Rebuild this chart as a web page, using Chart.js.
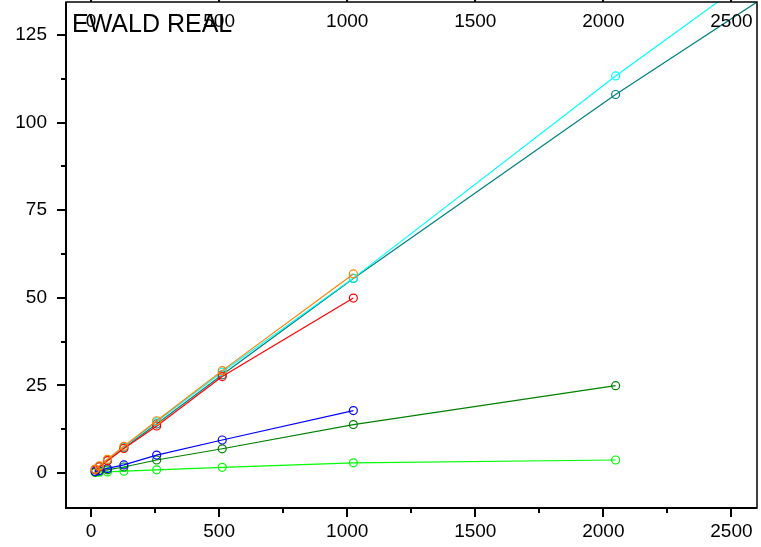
<!DOCTYPE html>
<html>
<head>
<meta charset="utf-8">
<script src="https://cdn.jsdelivr.net/npm/chart.js@4.4.1/dist/chart.umd.min.js"></script>
<style>
  html, body { margin: 0; padding: 0; background: #fff; }
  canvas { display: block; }
</style>
</head>
<body>
<canvas id="chart" width="761" height="547"></canvas>
<script>
const chartTitle = "EWALD REAL";

// problem sizes on the x axis
const sizes = [16, 32, 64, 128, 256, 512, 1024, 2048, 4096];

// timings, one list per curve
const teal = [1.0, 1.8, 3.6, 7.2, 14.0, 28.0, 55.5, 108.0, 206.0];
const cyan = [1.0, 1.9, 3.8, 7.4, 14.6, 28.8, 55.6, 113.3, 221.7];
const red = [0.9, 1.8, 3.5, 7.0, 13.4, 27.5, 49.9];
const orange = [1.1, 2.0, 3.9, 7.6, 14.9, 29.2, 56.8];
const blue = [0.4, 0.7, 1.3, 2.3, 5.1, 9.4, 17.8];
const darkGreen = [0.3, 0.5, 0.9, 1.7, 3.7, 6.9, 13.8, 24.9];
const lightGreen = [0.1, 0.2, 0.3, 0.5, 0.9, 1.6, 2.9, 3.7];

const xMajorTicks = [0, 500, 1000, 1500, 2000, 2500];
const xMinorTicks = [250, 750, 1250, 1750, 2250];
const yMajorTicks = [0, 25, 50, 75, 100, 125];
const yMinorTicks = [12.5, 37.5, 62.5, 87.5, 112.5];

const fontFamily = "'Liberation Sans', Arial, sans-serif";

function toPoints(values) {
  return values.map((v, i) => ({ x: sizes[i], y: v }));
}

function series(values, color) {
  return {
    data: toPoints(values),
    borderColor: color,
    backgroundColor: "rgba(0,0,0,0)",
    borderWidth: 1.2,
    pointRadius: 4,
    pointBorderWidth: 1.2,
    pointBorderColor: color,
    pointBackgroundColor: "rgba(0,0,0,0)",
    tension: 0,
  };
}

// no extra room for edge labels, the area is fixed by afterFit
function noPadding(s) {
  s.paddingTop = 0;
  s.paddingBottom = 0;
  s.paddingLeft = 0;
  s.paddingRight = 0;
}

// box, tick marks, top labels and the title
const frame = {
  id: "frame",
  afterDraw(chart) {
    const ctx = chart.ctx;
    const a = chart.chartArea;
    const xs = chart.scales.x;
    const ys = chart.scales.y;
    ctx.save();
    ctx.strokeStyle = "#000";

    ctx.lineWidth = 1.5;
    ctx.strokeRect(a.left, a.top, a.right - a.left, a.bottom - a.top);
    ctx.lineWidth = 2;
    ctx.beginPath();
    ctx.moveTo(a.left, a.top);
    ctx.lineTo(a.left, a.bottom);
    ctx.lineTo(a.right, a.bottom);
    ctx.stroke();

    ctx.lineWidth = 2;
    ctx.beginPath();
    xMajorTicks.forEach(v => {
      const px = Math.round(xs.getPixelForValue(v));
      ctx.moveTo(px, a.bottom);
      ctx.lineTo(px, a.bottom + 9);
      ctx.moveTo(px, a.top);
      ctx.lineTo(px, a.top - 3);
    });
    xMinorTicks.forEach(v => {
      const px = Math.round(xs.getPixelForValue(v));
      ctx.moveTo(px, a.bottom);
      ctx.lineTo(px, a.bottom + 5);
    });
    yMajorTicks.forEach(v => {
      const py = Math.round(ys.getPixelForValue(v));
      ctx.moveTo(a.left, py);
      ctx.lineTo(a.left - 9, py);
    });
    yMinorTicks.forEach(v => {
      const py = Math.round(ys.getPixelForValue(v));
      ctx.moveTo(a.left, py);
      ctx.lineTo(a.left - 5, py);
    });
    ctx.stroke();

    ctx.fillStyle = "#000";
    ctx.font = "19px " + fontFamily;
    ctx.textAlign = "center";
    ctx.textBaseline = "middle";
    xMajorTicks.forEach(v => {
      ctx.fillText(String(v), xs.getPixelForValue(v), a.top + 20);
    });

    ctx.font = "25px " + fontFamily;
    ctx.textAlign = "left";
    ctx.textBaseline = "alphabetic";
    ctx.fillText(chartTitle, 72, 32);
    ctx.restore();
  },
};

// chart.js paints the first dataset last, so it ends up on top
new Chart(document.getElementById("chart"), {
  type: "line",
  data: {
    datasets: [
      series(orange, "#ff8000"),
      series(red, "#ff0000"),
      series(cyan, "#00ffff"),
      series(teal, "#008080"),
      series(blue, "#0000ff"),
      series(darkGreen, "#008000"),
      series(lightGreen, "#00ff00"),
    ],
  },
  options: {
    responsive: false,
    animation: false,
    layout: { autoPadding: false, padding: { top: 2, right: 4, left: 0, bottom: 0 } },
    plugins: {
      legend: { display: false },
      tooltip: { enabled: false },
    },
    scales: {
      x: {
        type: "linear",
        min: -98,
        max: 2600,
        afterBuildTicks: s => { s.ticks = xMajorTicks.map(v => ({ value: v })); },
        afterFit: s => { s.height = 39; noPadding(s); },
        grid: { display: false, drawTicks: false },
        border: { display: false },
        ticks: {
          padding: 12,
          color: "#000",
          maxRotation: 0,
          autoSkip: false,
          font: { family: fontFamily, size: 19 },
          callback: v => String(v),
        },
      },
      y: {
        type: "linear",
        min: -10,
        max: 134.4,
        afterBuildTicks: s => { s.ticks = yMajorTicks.map(v => ({ value: v })); },
        afterFit: s => { s.width = 66; noPadding(s); },
        grid: { display: false, drawTicks: false },
        border: { display: false },
        ticks: {
          padding: 19,
          color: "#000",
          autoSkip: false,
          font: { family: fontFamily, size: 19 },
          callback: v => String(v),
        },
      },
    },
  },
  plugins: [frame],
});
</script>
</body>
</html>
